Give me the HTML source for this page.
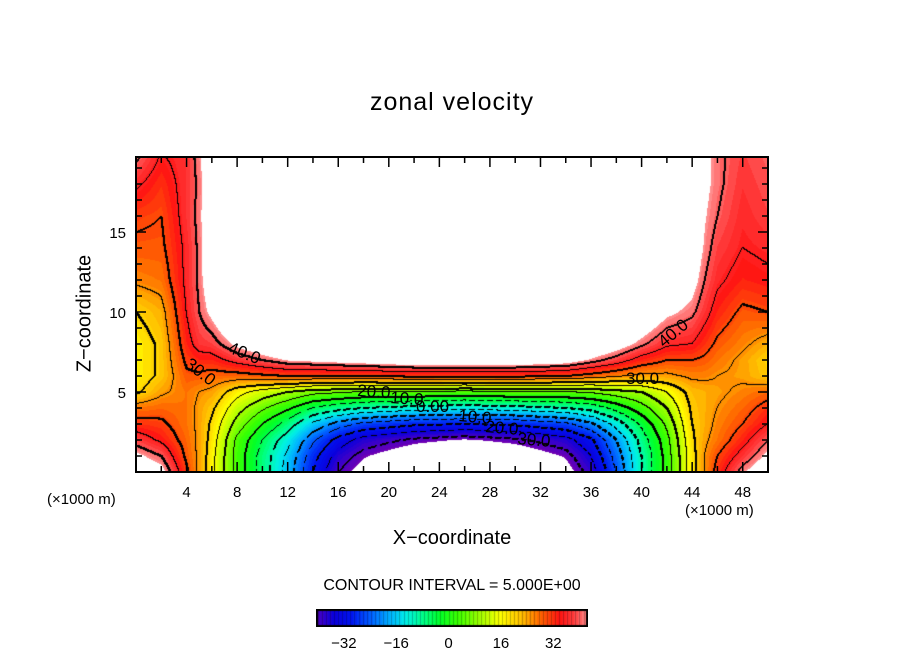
<!DOCTYPE html>
<html><head><meta charset="utf-8">
<style>
body{margin:0;background:#fff;}
#wrap{position:relative;width:904px;height:654px;overflow:hidden;font-family:"Liberation Sans",sans-serif;}
.t{position:absolute;white-space:nowrap;color:#000;}
canvas{position:absolute;}
</style></head>
<body>
<div id="wrap">
<div class="t" style="left:0;width:904px;text-align:center;top:88px;font-size:25px;letter-spacing:1px;">zonal velocity</div>
<canvas id="plot" width="632" height="315" style="left:136px;top:157px;"></canvas>
<svg id="ov" width="904" height="654" style="position:absolute;left:0;top:0;"></svg>
<div class="t" style="left:-5px;top:302px;width:180px;text-align:center;font-size:20px;transform:rotate(-90deg);">Z−coordinate</div>
<div class="t" style="left:0;width:904px;text-align:center;top:527px;font-size:20px;">X−coordinate</div>
<div class="t" style="left:47px;top:491px;font-size:15px;">(×1000 m)</div>
<div class="t" style="left:685px;top:502px;font-size:15px;">(×1000 m)</div>
<div class="t" style="left:0;width:904px;text-align:center;top:577px;font-size:16px;">CONTOUR INTERVAL = 5.000E+00</div>
<canvas id="cbar" width="272" height="18" style="left:316px;top:609px;"></canvas>
</div>
<script>
// ---- data ----
const xCoords = [0,2,4,5,6,8,10,12,14,16,18,22,26,30,34,36,38,40,42,44,45,46,48,50];
const zCoords = [0,1,2,3,4,5,6,7,8,10,12,14,16,18,20];
const uByColumn = [
 [48,44,38,32,27,19,17,17,17,20,26,29,31,36,42],
 [45,40,34,31,28,24,21,21,21,23,27,29,30,32,35],
 [31,29,28,27,27,27,29,31,33,35,36,36,37,37,37],
 [24,24,24,24,24,25,29,33,37,40,41,41,41.5,41,42],
 [17,17,18,19,21,24,28,33,38,44,47,48,48,48,48],
 [3,3,4,8,12,17,28,37,44,53,56,58,58,58,58],
 [-7,-7,-5,0,6,13,29,40,48,56,60,60,60,60,60],
 [-17,-16,-13,-7,1,10,30,43,52,58,60,60,60,60,60],
 [-30,-28,-24,-16,-5,7,30,44,54,60,60,60,60,60,60],
 [-40,-37,-32,-22,-8,6,30,45,55,60,60,60,60,60,60],
 [-45,-42,-37,-26,-10,5,30,46,55,60,60,60,60,60,60],
 [-52,-47,-41,-29,-12,5,31,48,55,60,60,60,60,60,60],
 [-55,-50,-43,-30,-13,4,31,48,55,60,60,60,60,60,60],
 [-52,-47,-41,-29,-12,5,31,48,55,60,60,60,60,60,60],
 [-45,-42,-37,-26,-10,5,30,46,55,60,60,60,60,60,60],
 [-38,-35,-31,-21,-8,6,28,42,50,58,60,60,60,60,60],
 [-25,-23,-20,-13,-3,8,26,38,46,55,58,60,60,60,60],
 [-10,-10,-8,-4,3,10,24,33,41,50,54,57,58,58,58],
 [2,2,3,6,10,15,24,30,36,44,49,52,55,55,55],
 [18,18,19,20,21,22,26,30,35,41,45,47,48,48,48],
 [25,25,24,23,23,23,26,29,32,37,40,42,43,44,44],
 [32,30,27,26,25,24,25,27,29,33,36,38,40,41,41],
 [42,37,33,30,28,26,24,24,26,29,33,35,36,37,38],
 [48,44,40,35,32,28,21,20,23,30,34,36,38,39,40]
];
const xTickValues = [4,8,12,16,20,24,28,32,36,40,44,48];
const zTickValues = [5,10,15];
const cbarTickValues = [-32,-16,0,16,32];
const contourLabels = [
 {t:"40.0",x:227,y:352,r:22},{t:"30.0",x:184,y:366,r:38},
 {t:"20.0",x:357,y:396,r:4},{t:"10.0",x:390,y:403,r:4},{t:"0.00",x:416,y:412,r:0},
 {t:"10.0",x:458,y:421,r:5},{t:"20.0",x:485,y:432,r:5},{t:"30.0",x:517,y:444,r:5},
 {t:"30.0",x:626,y:384,r:0},{t:"40.0",x:664,y:348,r:-40}
];
// ---- scales ----
const X0=136,X1=768,Y0=472,PXX=12.64,PXZ=16;
const sx = v => X0 + v*PXX;
const sz = v => Y0 - v*PXZ;
const VMIN=-40.5,VMAX=42.6;
const stops=[[-42.5,[110,0,180]],[-39,[60,0,200]],[-35,[10,0,220]],[-30,[0,20,240]],[-24,[0,90,255]],[-18,[0,180,255]],[-13,[0,240,230]],[-8,[0,255,140]],[-3,[0,255,40]],[3,[60,255,0]],[10,[170,255,0]],[16,[255,255,0]],[22,[255,190,0]],[28,[255,100,0]],[34,[255,20,20]],[38,[255,60,60]],[43,[255,150,150]]];
function color(v){
  v=Math.round(v*0.8)/0.8;
  if(v<=stops[0][0])return stops[0][1];
  for(let i=1;i<stops.length;i++){if(v<=stops[i][0]){const a=stops[i-1],b=stops[i],t=(v-a[0])/(b[0]-a[0]);return a[1].map((c,j)=>Math.round(c+(b[1][j]-c)*t));}}
  return stops[stops.length-1][1];
}
function seg(arr,v){let i=0;while(i<arr.length-2&&v>arr[i+1])i++;return [i,(v-arr[i])/(arr[i+1]-arr[i])];}
function field(x,z){
  const [i,tx]=seg(xCoords,x),[j,tz]=seg(zCoords,z);
  const a=uByColumn[i][j],b=uByColumn[i+1][j],c=uByColumn[i][j+1],d=uByColumn[i+1][j+1];
  return (a*(1-tx)+b*tx)*(1-tz)+(c*(1-tx)+d*tx)*tz;
}
// ---- plot ----
const cv=document.getElementById('plot'),ctx=cv.getContext('2d');
const W=cv.width,H=cv.height;
const V=new Float32Array(W*H);
for(let py=0;py<H;py++)for(let px=0;px<W;px++){V[py*W+px]=field((px+0.5)/PXX,(Y0-157-py-0.5)/PXZ);}
const img=ctx.createImageData(W,H);
for(let k=0;k<W*H;k++){const v=V[k];let c=(v>VMAX||v<-42.5)?[255,255,255]:color(v);img.data[k*4]=c[0];img.data[k*4+1]=c[1];img.data[k*4+2]=c[2];img.data[k*4+3]=255;}
const lvl=v=>Math.floor(v/5);
function mark(px,py){if(px<0||py<0||px>=W||py>=H)return;const k=(py*W+px)*4;img.data[k]=img.data[k+1]=img.data[k+2]=0;}
for(let py=0;py<H-1;py++)for(let px=0;px<W-1;px++){
  const v=V[py*W+px],r=V[py*W+px+1],b=V[(py+1)*W+px];
  const k0=lvl(v),k1=Math.max(lvl(r),lvl(b)),k2=Math.min(lvl(r),lvl(b));
  let L=null;
  if(k1>k0)L=k1*5;else if(k2<k0)L=k0*5;
  if(L===null||Math.abs(L)>40)continue;
  if(L<0&&((px+py)%9)>5)continue;
  mark(px,py);
  if(L%10===0){mark(px+1,py);mark(px,py+1);}
}
ctx.putImageData(img,0,0);
// ---- colorbar ----
const cb=document.getElementById('cbar'),cc=cb.getContext('2d');
for(let x=0;x<272;x++){const v=VMIN+(x/272)*(VMAX-VMIN);const c=color(v);cc.fillStyle=`rgb(${c})`;cc.fillRect(x,0,1,18);}
for(let v=-40;v<=42;v+=1.25){const x=(v-VMIN)/(VMAX-VMIN)*272;const c=color(v).map(q=>Math.round(q*0.75));cc.fillStyle=`rgb(${c})`;cc.fillRect(Math.round(x),0,1,18);}
cc.strokeStyle='#000';cc.lineWidth=2;cc.strokeRect(1,1,270,16);
// ---- svg overlay ----
const NS='http://www.w3.org/2000/svg',ov=document.getElementById('ov');
function el(tag,attrs,name){const e=document.createElementNS(NS,tag);for(const k in attrs)e.setAttribute(k,attrs[k]);


ov.appendChild(e);return e;}
el('rect',{x:X0,y:157,width:X1-X0,height:Y0-157,fill:'none',stroke:'#000','stroke-width':2},'plot-frame');
for(let v=2;v<50;v+=2){const x=sx(v),len=(v%4===0)?10:6;
 el('line',{x1:x,x2:x,y1:Y0,y2:Y0-len,stroke:'#000','stroke-width':1.5},'x-tick');
 el('line',{x1:x,x2:x,y1:157,y2:157+len,stroke:'#000','stroke-width':1.5},'x-tick-top');}
for(let v=1;v<20;v++){const y=sz(v),len=(v%5===0)?10:6;
 el('line',{x1:X0,x2:X0+len,y1:y,y2:y,stroke:'#000','stroke-width':1.5},'z-tick');
 el('line',{x1:X1,x2:X1-len,y1:y,y2:y,stroke:'#000','stroke-width':1.5},'z-tick-right');}
xTickValues.forEach(v=>{const t=el('text',{x:sx(v),y:497,'text-anchor':'middle','font-size':15,'font-family':'Liberation Sans, sans-serif'},'x-tick-label');t.textContent=v;});
zTickValues.forEach(v=>{const t=el('text',{x:126,y:sz(v)+6,'text-anchor':'end','font-size':15,'font-family':'Liberation Sans, sans-serif'},'z-tick-label');t.textContent=v;});
cbarTickValues.forEach(v=>{const x=316+(v-VMIN)/(VMAX-VMIN)*272;const t=el('text',{x:x,y:648,'text-anchor':'middle','font-size':15,'font-family':'Liberation Sans, sans-serif'},'colorbar-tick-label');t.textContent=(v<0?'−'+(-v):v);});
contourLabels.forEach(c=>{const t=el('text',{x:c.x,y:c.y,'font-size':17,'font-family':'Liberation Sans, sans-serif',transform:`rotate(${c.r} ${c.x} ${c.y})`},'contour-label');t.textContent=c.t;});
</script>
</body></html>
